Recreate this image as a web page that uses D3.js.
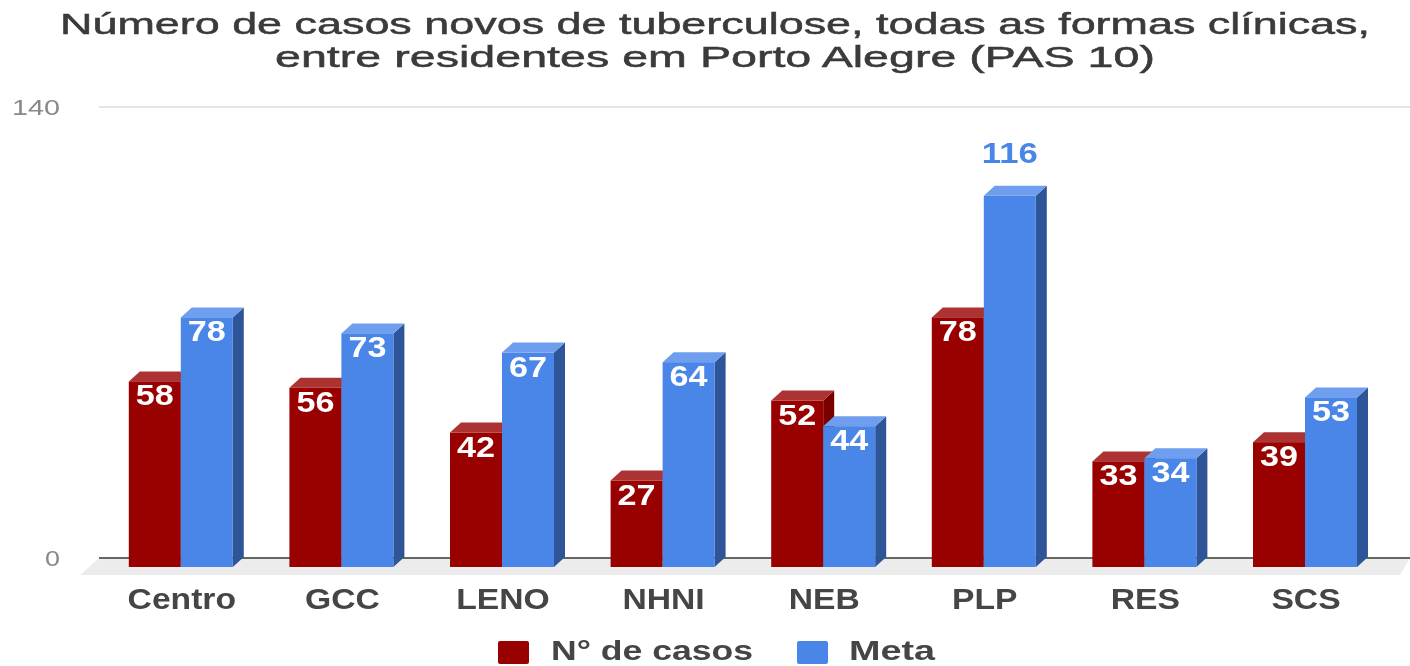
<!DOCTYPE html>
<html><head><meta charset="utf-8">
<script src="https://cdn.jsdelivr.net/npm/d3@7/dist/d3.min.js"></script>
<style>html,body{margin:0;padding:0;background:#fff}svg{display:block}text{font-family:"Liberation Sans",Arial,sans-serif}</style>
</head><body><svg id="c" width="1410" height="666"></svg>
<script>
const categories=["Centro","GCC","LENO","NHNI","NEB","PLP","RES","SCS"];
const casos=[58,56,42,27,52,78,33,39];
const meta=[78,73,67,64,44,116,34,53];
const seriesNames=["N° de casos","Meta"];
const seriesColors=["#990000","#4a86e8"];
const sideColors=["#7a0000","#2f5597"];
const topColors=["#ad3333","#6e9eed"];
const yTicks=[0,140];
const titleLines=["Número de casos novos de tuberculose, todas as formas clínicas,","entre residentes em Porto Alegre (PAS 10)"];

const svg=d3.select("#c");
const defs=svg.append("defs");
defs.append("filter").attr("id","soft").attr("x","-5%").attr("y","-5%").attr("width","110%").attr("height","110%")
  .append("feGaussianBlur").attr("stdDeviation",0.5);
const g=svg.append("g").attr("filter","url(#soft)");

const x=d3.scaleBand().domain(categories).range([100.5,1385.3]);
const inner=d3.scaleBand().domain(seriesNames).range([0,104]);
const y=d3.scaleLinear().domain([0,140]).range([567,119]);
const yBack=d3.scaleLinear().domain([0,140]).range([558,107]);
const dx=11,dy=10;
const groupX=c=>x(c)+x.bandwidth()/2-52;
const stretch=(sel,w)=>sel.attr("textLength",w).attr("lengthAdjust","spacingAndGlyphs");
const widen=(sel,k)=>sel.each(function(){d3.select(this).attr("textLength",this.getComputedTextLength()*k).attr("lengthAdjust","spacingAndGlyphs")});

// floor
const floor=[[80,575],[99,558],[1410,558],[1400,575]];
g.append("path").attr("d",d3.line()(floor)+"Z").attr("fill","#ececec");

// gridlines + axis labels
g.selectAll("line.grid").data(yTicks).join("line")
  .attr("x1",99).attr("x2",1410).attr("y1",d=>yBack(d)).attr("y2",d=>yBack(d))
  .attr("stroke",d=>d===0?"#666":"#ddd").attr("stroke-width",d=>d===0?2:1.6);
g.selectAll("text.ytick").data(yTicks).join("text")
  .attr("x",60).attr("y",d=>yBack(d)+8).attr("text-anchor","end")
  .attr("font-size",22).attr("fill","#888").text(d=>d)
  .each(function(d){stretch(d3.select(this),d===0?15:48)});

// bars
const order=categories.flatMap((c,i)=>[{c,s:0,v:casos[i]},{c,s:1,v:meta[i]}]);
const bar=g.selectAll("g.bar").data(order).join("g");
bar.each(function(d){
  const s=d3.select(this), x0=groupX(d.c)+inner(seriesNames[d.s]), w=inner.bandwidth(), t=y(d.v), b=y(0);
  s.append("path").attr("d",d3.line()([[x0+w,t],[x0+w+dx,t-dy],[x0+w+dx,b-dy],[x0+w,b]])+"Z").attr("fill",sideColors[d.s]);
  s.append("path").attr("d",d3.line()([[x0,t],[x0+dx,t-dy],[x0+w+dx,t-dy],[x0+w,t]])+"Z").attr("fill",topColors[d.s]);
  s.append("rect").attr("x",x0).attr("y",t).attr("width",w).attr("height",b-t).attr("fill",seriesColors[d.s]);
});
// value labels
g.selectAll("text.val").data(order).join("text")
  .attr("x",d=>groupX(d.c)+inner(seriesNames[d.s])+inner.bandwidth()/2)
  .attr("y",d=>d.v>100?y(d.v)-33:y(d.v)+24)
  .attr("text-anchor","middle").attr("font-size",29).attr("font-weight","bold")
  .attr("fill",d=>d.v>100?seriesColors[1]:"#fff").text(d=>d.v)
  .each(function(d){stretch(d3.select(this),d.v>100?56:38)});

// category labels
g.selectAll("text.cat").data(categories).join("text")
  .attr("x",c=>x(c)+x.bandwidth()/2+1).attr("y",609).attr("text-anchor","middle")
  .attr("font-size",29).attr("font-weight","bold").attr("fill","#444").text(c=>c)
  .call(widen,1.16);

// title
g.selectAll("text.title").data(titleLines).join("text")
  .attr("x",715).attr("y",(d,i)=>34+i*33).attr("text-anchor","middle")
  .attr("font-size",30).attr("fill","#3a3a3a").attr("stroke","#3a3a3a").attr("stroke-width",0.5).text(d=>d)
  .each(function(d,i){stretch(d3.select(this),i===0?1310:880)});

// legend
const lx=[498,797], tx=[551,849], tw=[202,86];
seriesNames.forEach((n,i)=>{
  g.append("rect").attr("x",lx[i]).attr("y",641).attr("width",31).attr("height",23).attr("rx",2).attr("fill",seriesColors[i]);
  const t=g.append("text").attr("x",tx[i]).attr("y",659.5).attr("font-size",27).attr("font-weight","bold").attr("fill","#444").text(n);
  stretch(t,tw[i]);
});
</script></body></html>
